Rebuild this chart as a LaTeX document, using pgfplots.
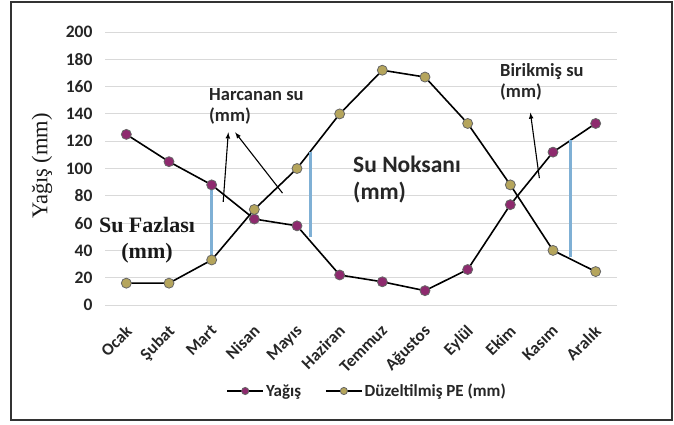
\documentclass[border=0pt]{standalone}
\usepackage{pgfplots}
\pgfplotsset{compat=1.18}
\usepackage{fontspec}
\setmainfont{Carlito}
\newfontfamily\timesf{Liberation Serif}
\definecolor{yagis}{HTML}{8E2A6E}
\definecolor{pe}{HTML}{B5A55C}
\definecolor{bline}{HTML}{7FB0D5}
\definecolor{gridc}{HTML}{D9D9D9}
\begin{document}
\begin{tikzpicture}[x=1pt,y=1pt]
\path[use as bounding box] (0,0) rectangle (674,-424);
\draw[black!80, line width=1.2pt] (11,-2) rectangle (672,-420);
\begin{axis}[
  at={(105pt,-305pt)}, anchor=south west,
  width=512pt, height=273pt, scale only axis,
  xmin=-0.5, xmax=11.5, ymin=0, ymax=200,
  clip=false,
  axis line style={draw=none},
  tick style={draw=none},
  ytick={0,20,...,200},
  ymajorgrids, grid style={gridc, line width=1pt},
  xtick={0,...,11},
  xticklabels={Ocak,Şubat,Mart,Nisan,Mayıs,Haziran,Temmuz,Ağustos,Eylül,Ekim,Kasım,Aralık},
  /pgf/number format/assume math mode=true,
  yticklabel style={font=\fontsize{17.5}{19}\selectfont\bfseries, text=black!85, xshift=-9pt},
  xticklabel style={font=\fontsize{17}{19}\selectfont\bfseries, text=black!85, xshift=-2pt, yshift=-14pt, rotate=45, anchor=north east},
  legend style={at={(0.512,-0.315)}, anchor=center, draw=none, legend columns=2,
    font=\fontsize{17}{19}\selectfont\bfseries, text=black!85, /tikz/every even column/.append style={column sep=22pt}},
  legend image code/.code={\draw[mark repeat=2,mark phase=2,#1,mark size=3.6pt] plot coordinates {(0pt,0pt)(18pt,0pt)(36pt,0pt)};},
]
\addplot[black, line width=1.6pt, mark=*, mark size=5pt, mark options={fill=yagis, draw=black!60, line width=0.8pt}]
coordinates {(0,125)(1,105)(2,88)(3,63)(4,58)(5,22)(6,17)(7,10.5)(8,26)(9,73.5)(10,112)(11,133)};
\addlegendentry{Yağış}
\addplot[black, line width=1.6pt, mark=*, mark size=5pt, mark options={fill=pe, draw=black!60, line width=0.8pt}]
coordinates {(0,16)(1,16)(2,33)(3,70)(4,100)(5,140)(6,172)(7,167)(8,133)(9,88)(10,40)(11,24.5)};
\addlegendentry{Düzeltilmiş PE (mm)}
\addplot[bline, line width=2.5pt, forget plot] coordinates {(2,87)(2,34)};
\addplot[bline, line width=2.5pt, forget plot] coordinates {(4.32,112)(4.32,50)};
\addplot[bline, line width=2.5pt, forget plot] coordinates {(10.41,121)(10.41,35)};
\draw[-latex, black, line width=1.1pt] (axis cs:2.27,75.5) -- (axis cs:2.39,126.5);
\draw[-latex, black, line width=1.1pt] (axis cs:3.66,82) -- (axis cs:2.55,126.5);
\draw[-latex, black, line width=1.1pt] (axis cs:9.68,93) -- (axis cs:9.47,141);
\end{axis}
\node[anchor=north west, align=left, font=\fontsize{18.5}{21}\selectfont\bfseries, text=black!85, inner sep=0pt] at (209,-88) {Harcanan su\\(mm)};
\node[anchor=north west, align=left, font=\fontsize{18.5}{21}\selectfont\bfseries, text=black!85, inner sep=0pt] at (500,-63) {Birikmiş su\\(mm)};
\node[anchor=north west, align=left, font=\fontsize{23.5}{27}\selectfont\bfseries, text=black!85, inner sep=0pt] at (353,-156) {Su Noksanı\\(mm)};
\node[anchor=center, align=center, font=\timesf\fontsize{22}{26}\selectfont\bfseries, text=black!90] at (147,-240) {Su Fazlası\\(mm)};
\node[rotate=90, font=\timesf\fontsize{22.5}{25}\selectfont, text=black!90] at (42,-166) {Yağış (mm)};
\end{tikzpicture}
\end{document}
